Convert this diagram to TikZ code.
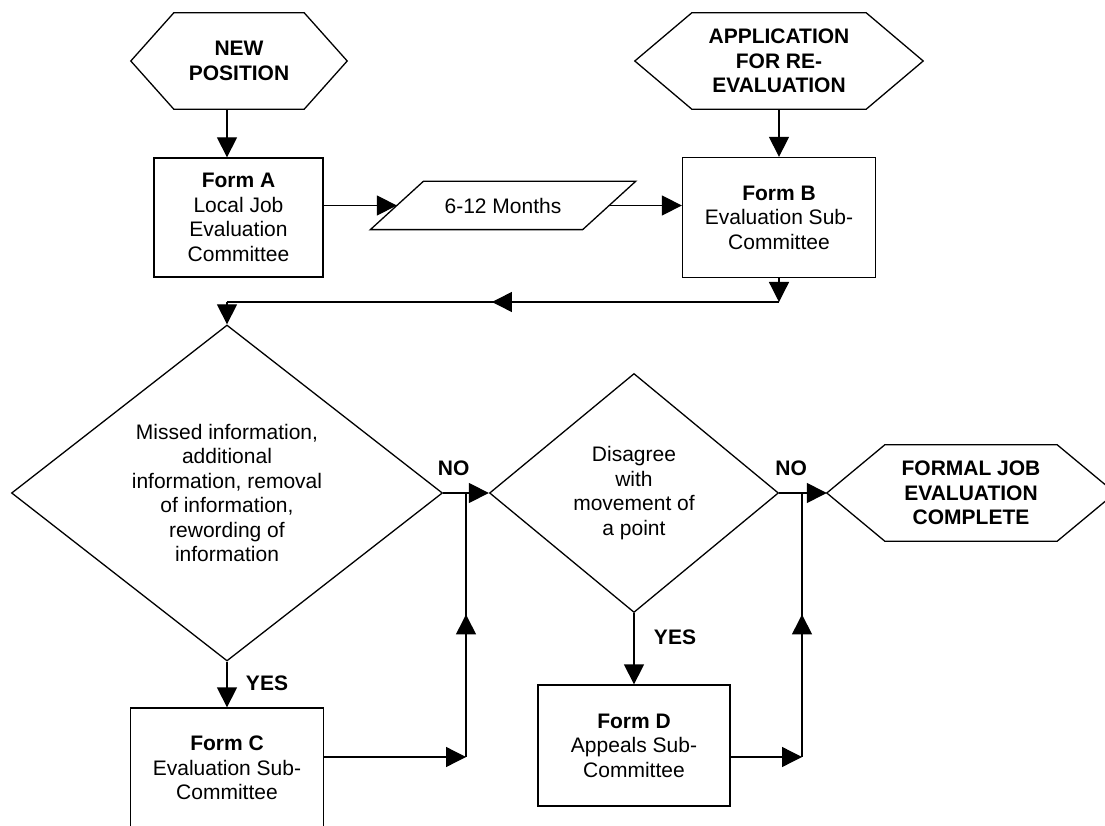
\documentclass[tikz,border=0pt]{standalone}
\usepackage{fontspec}
\setmainfont{Liberation Sans}
\usetikzlibrary{shapes.geometric,arrows.meta,decorations.markings}

\tikzset{
    >={Triangle[length=20pt,width=20pt]},
    flow/.style={line width=1.3pt},
    formbox/.style={draw, line width=1.3pt, align=center, inner sep=0pt, font=\fontsize{21}{24.5}\selectfont},
    hexa/.style={align=center, inner sep=0pt, minimum height=96pt, font=\fontsize{21}{24.5}\selectfont\bfseries},
    decision/.style={draw, diamond, line width=1.3pt, align=center, inner sep=0pt, font=\fontsize{21}{24.5}\selectfont},
    yesno/.style={inner sep=0pt, font=\fontsize{21}{24.5}\selectfont\bfseries},
    mid arrow/.style={postaction={decorate}, decoration={markings, mark=at position #1 with {\arrow{>}}}}
}

% outline of a hexagon round a node: name, depth of the point
\newcommand{\hexoutline}[2]{%
    \draw[flow] (#1.west) -- ([xshift=#2]#1.north west) -- ([xshift=-#2]#1.north east) -- (#1.east)
        -- ([xshift=-#2]#1.south east) -- ([xshift=#2]#1.south west) -- cycle;}

\begin{document}
\begin{tikzpicture}[x=1pt,y=1pt]
        \useasboundingbox (0,0) rectangle (1105,825);
        \clip (0,0) rectangle (1105,825);

        % Draw the two start points
        \node[hexa, minimum width=216pt] (newpos) at (239,764) {NEW\\POSITION};
        \hexoutline{newpos}{43pt}
        \node[hexa, minimum width=288pt] (reeval) at (779,764) {APPLICATION\\FOR RE-\\EVALUATION};
        \hexoutline{reeval}{57pt}

        % Draw forms A and B with the waiting time
        \node[formbox, minimum width=169pt, minimum height=119pt] (formA) at (238.5,607.5) {\textbf{Form A}\\Local Job\\Evaluation\\Committee};
        \node[formbox, minimum width=193pt, minimum height=120pt] (formB) at (779,607.5) {\textbf{Form B}\\Evaluation Sub-\\Committee};
        \node[formbox, draw=none, minimum width=211pt, minimum height=47pt] (months) at (503,619.5) {6-12 Months};
        \draw[flow] ([xshift=-26.5pt]months.south west) -- ([xshift=26.5pt]months.north west)
            -- ([xshift=26.5pt]months.north east) -- ([xshift=-26.5pt]months.south east) -- cycle;

        % Draw the decisions and the end point
        \node[decision, aspect=1.28, minimum width=431pt, minimum height=336pt] (missed) at (227,332)
            {Missed information,\\additional\\information, removal\\of information,\\rewording of\\information};
        \node[decision, aspect=1.21, minimum width=289pt, minimum height=239pt] (disagree) at (634,332)
            {Disagree\\with\\movement of\\a point};
        \node[hexa, minimum width=288pt] (complete) at (971,332) {FORMAL JOB\\EVALUATION\\COMPLETE};
        \hexoutline{complete}{58pt}

        % Draw forms C and D
        \node[formbox, minimum width=193pt, minimum height=120pt] (formC) at (227,57) {\textbf{Form C}\\Evaluation Sub-\\Committee};
        \node[formbox, minimum width=192pt, minimum height=121pt] (formD) at (634,79.5) {\textbf{Form D}\\Appeals Sub-\\Committee};

        % Join points of the lines
        \coordinate (topright) at (779,523);
        \coordinate (topleft) at (227,523);
        \coordinate (joinC) at (466,68);
        \coordinate (joinD) at (802,68);

        % Draw the connectors
        \draw[flow,->] (newpos.south -| topleft) -- (formA.north -| topleft);
        \draw[flow,->] (reeval.south) -- (formB.north);
        \draw[flow,->] (formA.east |- months.west) -- (months.west);
        \draw[flow,->] (months.east) -- (formB.west |- months.east);
        \draw[flow,->] (formB.south) -- (topright);
        \draw[flow, mid arrow=0.52] (topright) -- (topleft);
        \draw[flow,->] (topleft) -- (missed.north);
        \draw[flow,->] (missed.south) -- (formC.north);
        \draw[flow,->] (missed.east) -- (disagree.west);
        \draw[flow,->] (formC.east |- joinC) -- (joinC);
        \draw[flow, mid arrow=0.54] (joinC) -- (joinC |- missed.east);
        \draw[flow,->] (disagree.south) -- (formD.north);
        \draw[flow,->] (disagree.east) -- (complete.west);
        \draw[flow,->] (formD.east |- joinD) -- (joinD);
        \draw[flow, mid arrow=0.54] (joinD) -- (joinD |- disagree.east);

        % Draw the labels
        \node[yesno] (no1) at ([xshift=10.5pt,yshift=25pt]missed.east) {NO};
        \node[yesno] (yes1) at ([xshift=40pt,yshift=-22pt]missed.south) {YES};
        \node[yesno] (no2) at ([xshift=12pt,yshift=25pt]disagree.east) {NO};
        \node[yesno] (yes2) at ([xshift=41pt,yshift=-24pt]disagree.south) {YES};
    \end{tikzpicture}
\end{document}
